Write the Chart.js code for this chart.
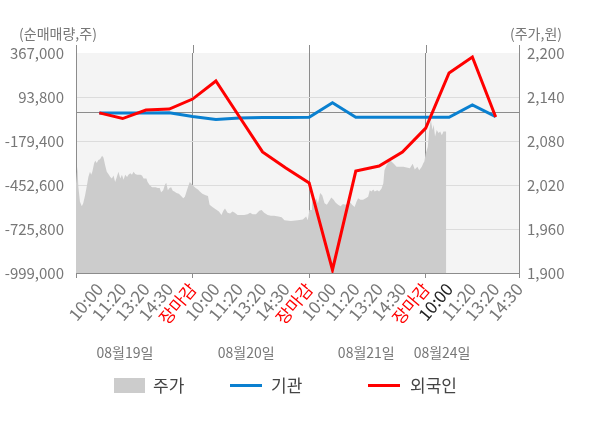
<!DOCTYPE html>
<html>
<head>
<meta charset="utf-8">
<script src="https://cdn.jsdelivr.net/npm/chart.js@4"></script>
<style>
  html, body { margin: 0; padding: 0; background: #fff; }
  #wrap { width: 600px; height: 428px; }
</style>
</head>
<body>
<div id="wrap"><canvas id="chart" width="600" height="428"></canvas></div>
<script>
// x axis slots: one label per slot, 장마감 closes each day
const slotLabels = ["", "10:00", "11:20", "13:20", "14:30", "장마감",
  "10:00", "11:20", "13:20", "14:30", "장마감",
  "10:00", "11:20", "13:20", "14:30", "장마감",
  "10:00", "11:20", "13:20", "14:30"];
const dayNames = ["08월19일", "08월20일", "08월21일", "08월24일"];
const dayNameAt = [2.1, 7.3, 12.45, 15.7];

const leftTicks = [-999000, -725800, -452600, -179400, 93800, 367000];
const rightTicks = [1900, 1960, 2020, 2080, 2140, 2200];

// net buying (shares), slots 1..18
const instNet = [-5000, -5000, -5000, -4000, -27000, -46000, -37000, -34000, -34000,
  -32000, 58000, -32000, -32000, -32000, -32000, -32000, 44000, -28000];
const foreignNet = [-5000, -40000, 13000, 19000, 81000, 193000, -27000, -247000, -347000,
  -440000, -980000, -366000, -335000, -248000, -99000, 243000, 342000, -30000];

// share price (won), time in slot units
const priceTime = [0.00, 0.06, 0.10, 0.17, 0.25, 0.31, 0.39, 0.46, 0.53, 0.60, 0.65, 0.70, 0.78, 0.83, 0.89, 0.96,
  1.03, 1.12, 1.18, 1.25, 1.32, 1.39, 1.47, 1.54, 1.61, 1.68, 1.75, 1.82, 1.90, 1.97,
  2.04, 2.11, 2.19, 2.25, 2.33, 2.40, 2.47, 2.54, 2.62, 2.76, 2.83, 2.90,
  3.02, 3.07, 3.16, 3.26, 3.41, 3.50, 3.59, 3.65, 3.74, 3.81, 3.87, 3.94,
  4.01, 4.08, 4.15, 4.22, 4.31, 4.41, 4.51, 4.60, 4.67, 4.74, 4.81, 4.88, 4.94,
  5.06, 5.13, 5.23, 5.31, 5.42, 5.56, 5.66, 5.73, 5.85, 5.99,
  6.13, 6.24, 6.32, 6.39, 6.50, 6.61, 6.71, 6.81, 6.93,
  7.07, 7.21, 7.36, 7.47, 7.57, 7.72, 7.86, 7.96,
  8.07, 8.22, 8.36, 8.50, 8.68, 8.82, 8.94, 9.22, 9.51, 9.73, 9.87, 9.94,
  10.01, 10.09, 10.12, 10.20, 10.23, 10.30, 10.38, 10.47, 10.56, 10.66, 10.76, 10.84, 10.95,
  11.05, 11.13, 11.24, 11.35, 11.45, 11.56, 11.67, 11.74, 11.84, 11.95,
  12.03, 12.10, 12.20, 12.31, 12.43, 12.53, 12.60, 12.67, 12.75, 12.81, 12.92,
  13.00, 13.10, 13.18, 13.23, 13.32, 13.44, 13.53, 13.63, 13.75, 13.89,
  14.04, 14.18, 14.32, 14.44, 14.53, 14.64, 14.72, 14.83, 14.90, 14.94,
  15.00, 15.09, 15.14, 15.22, 15.29, 15.34, 15.40, 15.47, 15.55, 15.62, 15.69, 15.76, 15.83, 15.88];
const priceValue = [2022, 2045, 2018, 1997, 1991, 1995, 2006, 2018, 2031, 2038, 2034, 2038, 2050, 2053, 2050, 2054,
  2055, 2060, 2057, 2047, 2038, 2035, 2031, 2029, 2033, 2024, 2031, 2038, 2029, 2034,
  2027, 2034, 2031, 2034, 2036, 2034, 2038, 2035, 2034, 2034, 2033, 2029,
  2029, 2024, 2020, 2017, 2017, 2016, 2016, 2010, 2013, 2020, 2023, 2013,
  2016, 2017, 2012, 2011, 2009, 2008, 2005, 2002, 2004, 2011, 2018, 2024, 2022,
  2018, 2016, 2014, 2011, 2008, 2006, 2005, 1993, 1990, 1987,
  1984, 1979, 1985, 1988, 1982, 1981, 1984, 1982, 1979,
  1979, 1979, 1980, 1982, 1980, 1980, 1985, 1986,
  1982, 1979, 1978, 1978, 1977, 1976, 1972, 1971, 1972, 1973, 1977, 1972,
  1986, 1986, 1999, 1993, 1997, 2002, 1995, 2009, 2006, 1995, 1993, 1997, 2003,
  2000, 1996, 1993, 1991, 1994, 1993, 1995, 1997, 1993, 1990,
  1997, 2002, 2000, 2000, 2002, 2004, 2013, 2011, 2014, 2011, 2013,
  2011, 2015, 2022, 2040, 2047, 2054, 2052, 2049, 2045, 2045,
  2045, 2044, 2043, 2049, 2041, 2045, 2040, 2045, 2050, 2052,
  2063, 2072, 2093, 2109, 2095, 2102, 2086, 2095, 2091, 2093, 2088, 2093, 2093, 2093];

const FONT = "'Noto Sans CJK KR', 'Noto Sans', sans-serif";
const dayEnds = [0, 5, 10, 15, 19];

const extras = {
  id: 'extras',
  beforeDraw(chart) {
    const { ctx, chartArea: a } = chart;
    ctx.save();
    ctx.fillStyle = '#f4f4f4';
    ctx.fillRect(a.left, a.top, a.right - a.left, a.bottom - a.top);
    ctx.restore();
  },
  beforeDatasetsDraw(chart) {
    const { ctx, chartArea: a, scales } = chart;
    const y0 = Math.round(scales.yNet.getPixelForValue(0)) + 0.5;
    ctx.save();
    ctx.strokeStyle = '#8c8c8c';
    ctx.lineWidth = 1;
    ctx.beginPath();
    ctx.moveTo(a.left, y0);
    ctx.lineTo(a.right, y0);
    // day separators reach a little above the plot
    dayEnds.forEach(v => {
      const x = Math.round(scales.x.getPixelForValue(v)) + 0.5;
      ctx.moveTo(x, a.top - 8);
      ctx.lineTo(x, a.top);
    });
    ctx.stroke();
    ctx.restore();
  },
  afterDraw(chart) {
    const { ctx, scales } = chart;
    ctx.save();
    ctx.textBaseline = 'middle';
    ctx.font = '14px ' + FONT;
    ctx.fillStyle = '#777';
    ctx.textAlign = 'center';
    ctx.fillText('(순매매량,주)', 58, 34);
    ctx.fillText('(주가,원)', 536, 34);
    dayNames.forEach((d, i) => {
      ctx.fillText(d, scales.x.getPixelForValue(dayNameAt[i]), 353);
    });

    // legend
    ctx.font = '17px ' + FONT;
    ctx.textAlign = 'left';
    ctx.fillStyle = '#cccccc';
    ctx.fillRect(114, 378, 31, 15);
    ctx.fillStyle = '#0a80d0';
    ctx.fillRect(230, 384, 32, 3);
    ctx.fillStyle = '#ff0000';
    ctx.fillRect(368, 384, 32, 3);
    ctx.fillStyle = '#444';
    ctx.fillText('주가', 153, 386);
    ctx.fillText('기관', 271, 386);
    ctx.fillText('외국인', 410, 386);
    ctx.restore();
  }
};

new Chart(document.getElementById('chart'), {
  type: 'line',
  data: {
    datasets: [
      {
        label: '주가',
        data: priceTime.map((t, i) => ({ x: t, y: priceValue[i] })),
        yAxisID: 'yPrice',
        backgroundColor: '#cccccc',
        borderWidth: 0,
        pointRadius: 0,
        fill: 'start',
        order: 3
      },
      {
        label: '기관',
        data: instNet.map((v, i) => ({ x: i + 1, y: v })),
        yAxisID: 'yNet',
        borderColor: '#0a80d0',
        borderWidth: 3,
        pointRadius: 0,
        fill: false,
        order: 2
      },
      {
        label: '외국인',
        data: foreignNet.map((v, i) => ({ x: i + 1, y: v })),
        yAxisID: 'yNet',
        borderColor: '#ff0000',
        borderWidth: 3,
        pointRadius: 0,
        fill: false,
        order: 1
      }
    ]
  },
  options: {
    responsive: false,
    animation: false,
    layout: { padding: { top: 53, left: 0, right: 0, bottom: 0 } },
    plugins: { legend: { display: false }, tooltip: { enabled: false } },
    scales: {
      x: {
        type: 'linear',
        min: 0,
        max: 19,
        afterBuildTicks(scale) { scale.ticks = slotLabels.map((_, i) => ({ value: i })); },
        afterFit(scale) { scale.height = 155; },
        border: { color: '#8c8c8c' },
        grid: {
          color: c => dayEnds.includes(c.tick.value) ? '#8c8c8c' : 'transparent',
          tickColor: c => dayEnds.includes(c.tick.value) ? '#8c8c8c' : 'transparent',
          tickLength: 5
        },
        ticks: {
          autoSkip: false,
          minRotation: 50,
          maxRotation: 50,
          padding: 1,
          font: { family: FONT, size: 17 },
          color: c => {
            const v = c.tick.value;
            if (slotLabels[v] === '장마감') return '#ff0000';
            if (v === 16) return '#222';
            return '#777';
          },
          callback: v => slotLabels[v]
        }
      },
      yNet: {
        type: 'linear',
        position: 'left',
        min: -999000,
        max: 367000,
        afterBuildTicks(scale) { scale.ticks = leftTicks.map(v => ({ value: v })); },
        afterFit(scale) { scale.width = 76; },
        border: { color: '#8c8c8c' },
        grid: {
          color: c => (c.tick.value === 367000 || c.tick.value === -999000) ? 'transparent' : '#dcdcdc',
          drawTicks: false
        },
        ticks: {
          padding: 12,
          font: { family: FONT, size: 15 },
          color: '#777',
          callback: v => v.toLocaleString('en-US')
        }
      },
      yPrice: {
        type: 'linear',
        position: 'right',
        min: 1900,
        max: 2200,
        afterBuildTicks(scale) { scale.ticks = rightTicks.map(v => ({ value: v })); },
        afterFit(scale) { scale.width = 81; },
        border: { color: '#8c8c8c' },
        grid: { display: false, drawTicks: false },
        ticks: {
          padding: 8,
          font: { family: FONT, size: 15 },
          color: '#777',
          callback: v => v.toLocaleString('en-US')
        }
      }
    }
  },
  plugins: [extras]
});
</script>
</body>
</html>
